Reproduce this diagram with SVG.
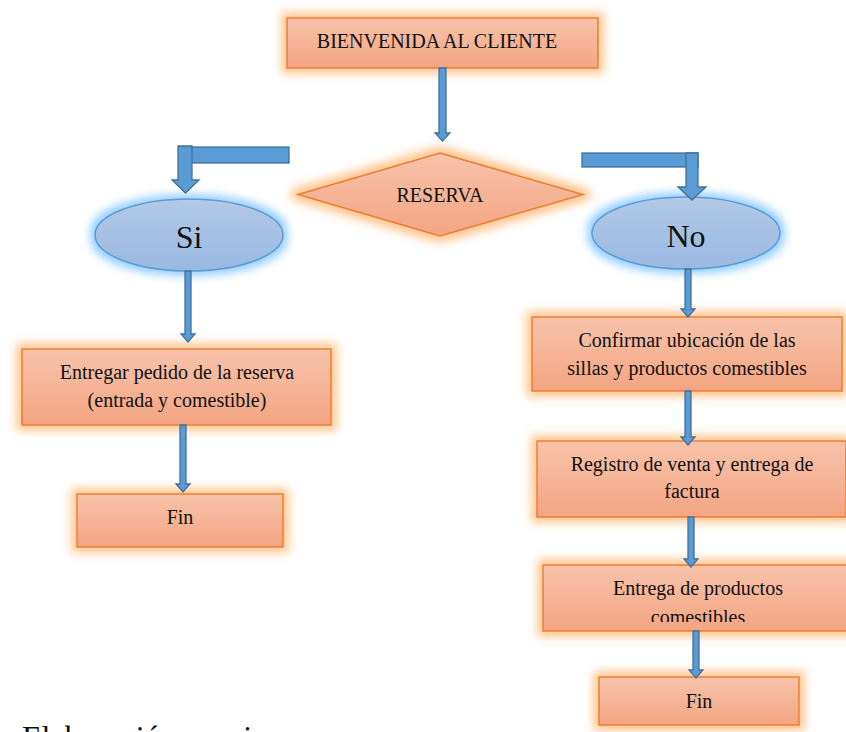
<svg xmlns="http://www.w3.org/2000/svg" width="846" height="732" viewBox="0 0 846 732">
<defs>
<linearGradient id="gOr" x1="0" y1="0" x2="0" y2="1">
<stop offset="0" stop-color="#f7c3aa"/>
<stop offset="1" stop-color="#f4a583"/>
</linearGradient>
<linearGradient id="gBl" x1="0" y1="0" x2="0" y2="1">
<stop offset="0" stop-color="#b3c9e7"/>
<stop offset="1" stop-color="#98b9e2"/>
</linearGradient>
<filter id="glowO" x="-30%" y="-40%" width="160%" height="180%">
<feMorphology in="SourceAlpha" operator="dilate" radius="5" result="d"/>
<feGaussianBlur in="d" stdDeviation="5" result="b"/>
<feFlood flood-color="#ffb36b" flood-opacity="0.75"/>
<feComposite in2="b" operator="in" result="g"/>
<feMerge><feMergeNode in="g"/><feMergeNode in="SourceGraphic"/></feMerge>
</filter>
<filter id="glowB" x="-30%" y="-40%" width="160%" height="180%">
<feMorphology in="SourceAlpha" operator="dilate" radius="4" result="d"/>
<feGaussianBlur in="d" stdDeviation="4" result="b"/>
<feFlood flood-color="#7cc3ff" flood-opacity="0.8"/>
<feComposite in2="b" operator="in" result="g"/>
<feMerge><feMergeNode in="g"/><feMergeNode in="SourceGraphic"/></feMerge>
</filter>
<clipPath id="clipE"><rect x="540" y="560" width="310" height="62"/></clipPath>
<style>
.box{fill:url(#gOr);stroke:#ed7d31;stroke-width:1.5;filter:url(#glowO)}
.ell{fill:url(#gBl);stroke:#5b9bd5;stroke-width:1.5;filter:url(#glowB)}
.t{font-family:"Liberation Serif","Times New Roman",serif;font-size:20px;fill:#111;text-anchor:middle}
.big{font-size:32px}
.arr{fill:#5b9bd5;stroke:#41719c;stroke-width:1.3;stroke-linejoin:miter}
</style>
</defs>
<rect width="846" height="732" fill="#fff"/>

<g id="n-bienvenida">
<rect class="box" x="287" y="18" width="311" height="50"/>
<text class="t" x="437" y="48">BIENVENIDA AL CLIENTE</text>
</g>

<g id="n-reserva">
<polygon class="box" points="440,153 583,194.5 440,236 298,194.5"/>
<text class="t" x="440" y="202">RESERVA</text>
</g>

<g id="n-si">
<ellipse class="ell" cx="189" cy="235" rx="94" ry="36"/>
<text class="t big" x="189" y="248">Si</text>
</g>

<g id="n-no">
<ellipse class="ell" cx="686" cy="233" rx="94" ry="36"/>
<text class="t big" x="686" y="247">No</text>
</g>

<g id="n-entregar">
<rect class="box" x="22" y="349" width="309" height="76"/>
<text class="t" x="177" y="379">Entregar pedido de la reserva</text>
<text class="t" x="177" y="407">(entrada y comestible)</text>
</g>

<g id="n-fin1">
<rect class="box" x="77" y="494" width="206" height="53"/>
<text class="t" x="180" y="524">Fin</text>
</g>

<g id="n-confirmar">
<rect class="box" x="532" y="317" width="310" height="74"/>
<text class="t" x="687" y="347">Confirmar ubicación de las</text>
<text class="t" x="687" y="375">sillas y productos comestibles</text>
</g>

<g id="n-registro">
<rect class="box" x="537" y="441" width="309" height="76"/>
<text class="t" x="692" y="471">Registro de venta y entrega de</text>
<text class="t" x="692" y="498">factura</text>
</g>

<g id="n-entrega">
<rect class="box" x="543" y="565" width="320" height="66"/>
<g clip-path="url(#clipE)">
<text class="t" x="698" y="595">Entrega de productos</text>
<text class="t" x="698" y="624">comestibles</text>
</g>
</g>

<g id="n-fin2">
<rect class="box" x="599" y="677" width="200" height="48"/>
<text class="t" x="699" y="708">Fin</text>
</g>

<g id="connectors">
<path class="arr" d="M439,68 H446 V133 H450 L442.5,141 L435,133 H439 Z"/>
<rect class="arr" x="190" y="147" width="99" height="16"/>
<path class="arr" d="M178,146 H192 V180 H199 L185.5,193 L172,180 H178 Z"/>
<rect class="arr" x="582" y="153" width="116" height="14"/>
<path class="arr" d="M686,153 H698 V187 H706 L692,200 L678,187 H686 Z"/>
<path class="arr" d="M185,271 H191 V334 H195 L188,342 L181,334 H185 Z"/>
<path class="arr" d="M180,425 H186 V484 H190 L183,492 L176,484 H180 Z"/>
<path class="arr" d="M685,269 H691 V309 H695 L688,317 L681,309 H685 Z"/>
<path class="arr" d="M685,391 H691 V437 H695 L688,445 L681,437 H685 Z"/>
<path class="arr" d="M688,517 H694 V559 H698 L691,567 L684,559 H688 Z"/>
<path class="arr" d="M693,631 H699 V670 H703 L696,678 L689,670 H693 Z"/>
</g>

<text id="caption" x="22" y="748" style="font-family:'Liberation Serif','Times New Roman',serif;font-size:32px;fill:#111">Elaboración propia</text>
</svg>
